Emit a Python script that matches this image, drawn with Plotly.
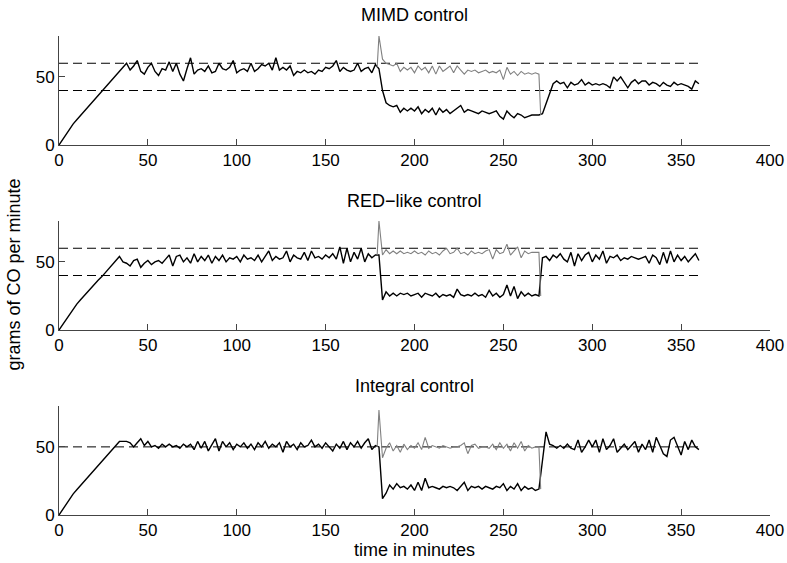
import plotly.graph_objects as go

# ---------------- data ----------------
step_minutes = 2
x_ticks = [0, 50, 100, 150, 200, 250, 300, 350, 400]
y_ticks = [0, 50]

panel_titles = ["MIMD control", "RED\u2212like control", "Integral control"]
mimd_limits = [40, 60]
red_limits = [40, 60]
integral_limits = [50]

# MIMD, black series (every 2 minutes, 0..360)
mimd_ramp = [0, 4, 8, 12, 15.5, 18.5, 21.5, 24.5, 27.5, 30, 33, 36, 39, 42, 45, 48, 51, 54, 57]
mimd_steady = [60, 55, 58, 62, 54, 52, 57, 60, 54, 51, 56, 55, 61, 54, 60, 52, 47, 56, 64, 52,
               55, 56, 54, 58, 53, 54, 60, 56, 55, 57, 62, 53, 55, 56, 54, 60, 54, 56, 59, 58,
               60, 55, 64, 55, 57, 55, 58, 51, 54, 53, 55, 53, 54, 52, 55, 54, 57, 56, 58, 62,
               54, 57, 55, 54, 55, 60, 54, 56, 57, 53, 59, 56]
mimd_low = [40, 31, 29, 28, 29, 24, 27, 25, 27, 25, 28, 23, 26, 24, 27, 22, 27, 24, 26, 23,
            25, 27, 29, 24, 26, 25, 24, 23, 25, 24, 23, 24, 25, 21, 19, 25, 22, 20, 23, 22,
            20, 21, 22, 22, 22]
mimd_recover = [23, 30, 38, 45, 47, 45, 46, 42, 46, 44, 45, 48, 44, 46, 44, 45, 44, 45, 44, 42,
                50, 47, 50, 46, 42, 46, 48, 45, 47, 47, 44, 46, 45, 43, 46, 44, 43, 46, 44, 45,
                44, 43, 41, 47, 45]
# MIMD, grey series (179, 180..270 every 2 minutes, 271)
mimd_grey = [57, 80, 63, 60, 59, 58, 60, 54, 57, 55, 57, 53, 58, 55, 57, 53, 58, 52, 58, 54,
             56, 58, 53, 58, 55, 52, 55, 54, 55, 53, 54, 55, 53, 54, 53, 55, 48, 57, 52, 54,
             51, 54, 52, 53, 52, 53, 52, 22]

# RED-like, black series
red_ramp = [0, 4, 8, 12, 16, 19, 22, 25, 27.5, 30.5, 33.5, 36.5, 39, 42, 45, 48, 51, 54]
red_steady = [50, 49, 47, 51, 52, 46, 49, 51, 48, 50, 51, 49, 52, 55, 47, 54, 55, 50, 53, 49,
              56, 50, 54, 51, 55, 49, 54, 51, 55, 50, 53, 52, 54, 50, 55, 52, 53, 51, 55, 50,
              54, 58, 51, 54, 52, 53, 58, 50, 55, 53, 52, 57, 51, 58, 53, 54, 52, 55, 53, 56,
              52, 61, 49, 60, 50, 57, 52, 60, 50, 56, 53, 55]
red_low = [55, 22, 28, 25, 27, 25, 27, 26, 27, 25, 26, 27, 24, 27, 26, 25, 27, 24, 26, 25,
           26, 24, 30, 26, 25, 26, 25, 27, 25, 26, 24, 29, 25, 27, 24, 26, 33, 25, 32, 23,
           28, 25, 27, 25, 26, 25]
red_recover = [53, 54, 51, 55, 53, 56, 52, 50, 57, 47, 56, 51, 55, 57, 50, 55, 52, 58, 49, 54,
               53, 55, 51, 53, 52, 54, 53, 52, 53, 54, 49, 55, 53, 48, 57, 49, 58, 50, 55, 51,
               54, 50, 53, 56, 51]
red_grey = [55, 80, 55, 59, 56, 58, 56, 58, 56, 57, 56, 58, 56, 57, 55, 58, 56, 57, 55, 58,
            60, 56, 57, 60, 56, 57, 55, 58, 56, 57, 56, 58, 59, 52, 59, 56, 57, 63, 55, 58,
            61, 53, 58, 56, 57, 57, 57, 25]

# Integral, black series
int_ramp = [0, 4, 8, 12, 15.5, 18.5, 21.5, 24.5, 27.5, 30.5, 33.5, 36.5, 39.5, 42.5, 45.5, 48.5,
            51.5, 54]
int_steady = [54, 54, 53, 50, 53, 56, 51, 54, 50, 51, 49, 52, 50, 52, 50, 51, 49, 52, 50, 52,
              48, 54, 49, 54, 47, 52, 56, 47, 54, 50, 53, 48, 52, 50, 53, 49, 52, 48, 53, 50,
              54, 49, 52, 50, 53, 46, 54, 50, 52, 48, 53, 50, 51, 55, 50, 52, 49, 53, 50, 47,
              52, 49, 54, 48, 53, 50, 54, 49, 53, 56, 48, 51, 50]
int_low = [12, 16, 22, 19, 23, 20, 21, 19, 22, 18, 24, 18, 27, 20, 21, 20, 19, 21, 20, 21,
           20, 18, 21, 24, 18, 21, 20, 21, 19, 21, 20, 19, 21, 20, 23, 18, 21, 19, 23, 18,
           21, 19, 20, 18, 19]
int_recover = [40, 61, 52, 51, 49, 51, 49, 52, 49, 48, 55, 46, 50, 55, 50, 55, 46, 56, 48, 51,
               56, 46, 49, 52, 48, 51, 54, 46, 52, 48, 55, 46, 57, 51, 45, 43, 55, 57, 50, 44,
               54, 48, 55, 50, 48]
int_grey = [50, 77, 42, 49, 53, 47, 51, 46, 52, 48, 51, 49, 53, 48, 57, 49, 51, 50, 49, 51,
            50, 49, 50, 50, 51, 53, 45, 51, 52, 49, 50, 50, 49, 52, 48, 53, 49, 52, 47, 53,
            49, 54, 47, 51, 49, 50, 50, 19]

mimd_black = mimd_ramp + mimd_steady + mimd_low + mimd_recover
red_black = red_ramp + red_steady + red_low + red_recover
int_black = int_ramp + int_steady + int_low + int_recover

black_minutes = list(range(0, 361, step_minutes))
grey_minutes = [179] + list(range(180, 271, step_minutes)) + [271]
limit_span = [0, 360]

for s in (mimd_black, red_black, int_black):
    assert len(s) == len(black_minutes), len(s)
for s in (mimd_grey, red_grey, int_grey):
    assert len(s) == len(grey_minutes), len(s)

panels = [
    (mimd_black, mimd_grey, mimd_limits),
    (red_black, red_grey, red_limits),
    (int_black, int_grey, integral_limits),
]

# ---------------- figure ----------------
FONT = "Liberation Sans, Arial, Helvetica, sans-serif"
W, H = 787, 563
ML, MR, MT, MB = 59, 17, 36, 48
plot_h = H - MT - MB
plot_w = W - ML - MR
axes_px = [(36, 145), (221, 330), (406, 515)]  # top/bottom pixel rows of each panel
title_px = [15.5, 200.5, 385.5]

def py_to_paper(py):
    return (H - MB - py) / plot_h

fig = go.Figure()
for i, (blk, gry, lims) in enumerate(panels):
    xa = "x" if i == 0 else f"x{i+1}"
    ya = "y" if i == 0 else f"y{i+1}"
    for lv in lims:
        fig.add_trace(go.Scatter(x=limit_span, y=[lv, lv], mode="lines", xaxis=xa, yaxis=ya,
                                 line=dict(color="black", width=1, dash="9px,5px"),
                                 showlegend=False, hoverinfo="skip"))
    fig.add_trace(go.Scatter(x=black_minutes, y=blk, mode="lines", xaxis=xa, yaxis=ya,
                             line=dict(color="black", width=1.4), showlegend=False))
    fig.add_trace(go.Scatter(x=grey_minutes, y=gry, mode="lines", xaxis=xa, yaxis=ya,
                             line=dict(color="#808080", width=1.1), showlegend=False))

axis_common = dict(showgrid=False, zeroline=False, showline=True, linecolor="#444",
                   linewidth=1, ticks="inside", ticklen=6, tickcolor="#444", tickwidth=1,
                   tickfont=dict(family=FONT, size=17, color="black"), mirror=False)

layout = dict(width=W, height=H, margin=dict(l=ML, r=MR, t=MT, b=MB, autoexpand=False),
              plot_bgcolor="white", paper_bgcolor="white", showlegend=False,
              font=dict(family=FONT, size=17, color="black"))
for i, (top, bot) in enumerate(axes_px):
    xk = "xaxis" if i == 0 else f"xaxis{i+1}"
    yk = "yaxis" if i == 0 else f"yaxis{i+1}"
    ya = "y" if i == 0 else f"y{i+1}"
    xa = "x" if i == 0 else f"x{i+1}"
    layout[xk] = dict(axis_common, range=[0, 400], tickvals=x_ticks,
                      ticktext=[str(v) for v in x_ticks], anchor=ya, domain=[0, 1])
    layout[yk] = dict(axis_common, range=[0, 80], tickvals=y_ticks,
                      ticktext=[str(v) for v in y_ticks], anchor=xa,
                      domain=[py_to_paper(bot), py_to_paper(top)])
fig.update_layout(**layout)

annotations = []
for t, py in zip(panel_titles, title_px):
    annotations.append(dict(text=t, x=0.5, y=py_to_paper(py), xref="paper", yref="paper",
                            xanchor="center", yanchor="middle", showarrow=False,
                            font=dict(family=FONT, size=18, color="black")))
annotations.append(dict(text="time in minutes", x=0.5, y=py_to_paper(550), xref="paper",
                        yref="paper", xanchor="center", yanchor="middle", showarrow=False,
                        font=dict(family=FONT, size=18, color="black")))
annotations.append(dict(text="grams of CO per minute", x=(13.5 - ML) / plot_w,
                        y=py_to_paper(275), xref="paper", yref="paper", xanchor="center",
                        yanchor="middle", textangle=-90, showarrow=False,
                        font=dict(family=FONT, size=18, color="black")))
fig.update_layout(annotations=annotations)

fig.write_html("out.html", config={"displayModeBar": False},
               post_script="document.body.style.margin='0';document.body.style.overflow='hidden';")
